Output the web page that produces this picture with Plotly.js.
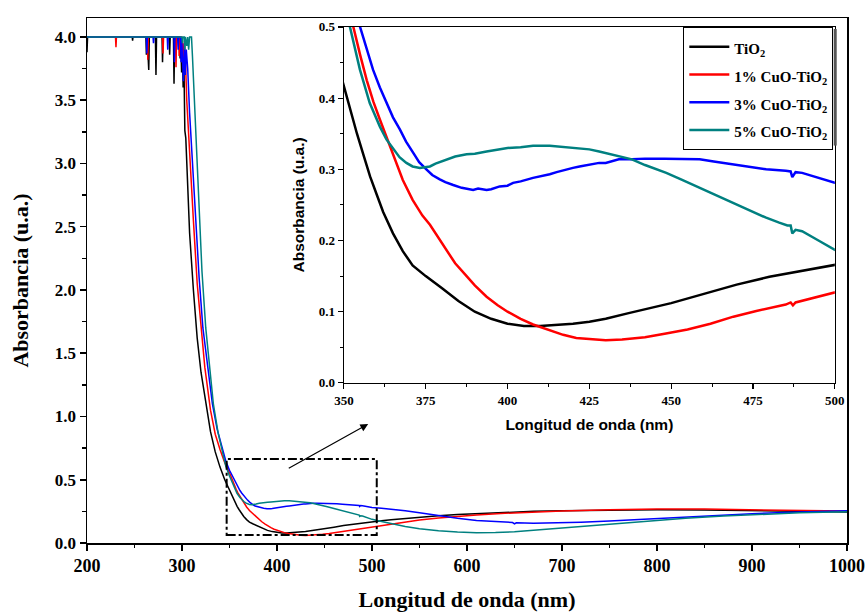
<!DOCTYPE html>
<html>
<head>
<meta charset="utf-8">
<script src="https://cdn.plot.ly/plotly-3.0.1.min.js"></script>
<style>html,body{margin:0;padding:0;background:#fff;}#chart{width:867px;height:616px;}</style>
</head>
<body>
<div id="chart"></div>
<script>
// ---------- data ----------
const seriesNames = ["TiO<sub>2</sub>", "1% CuO-TiO<sub>2</sub>", "3% CuO-TiO<sub>2</sub>", "5% CuO-TiO<sub>2</sub>"];
const seriesColors = ["#000000", "#ff0000", "#0000ff", "#008080"];

const tio2X = [200,200.6,247.6,248,248.4,262,262.5,263.5,265,265.6,272,272.6,273.2,279,279.5,280.1,286.5,287,287.6,291,291.6,292.3,294,295,297.4,298,298.6,299.6,300.4,301.2,302,303,304,305,306.5,308,312,316,320,325,330,335,340,345,
  350,352,354,356,358,360,362,365,368,371,375,380,385,390,395,400,405,410,415,420,425,430,437,445,450,460,470,480,490,500,
  510,520,535,550,570,590,610,640,670,700,750,800,850,900,950,1000];
const tio2Y = [3.88,4.0,4.0,3.97,4.0,4.0,3.86,3.98,3.74,4.0,4.0,3.70,4.0,4.0,3.80,4.0,4.0,3.86,4.0,4.0,3.63,4.0,3.92,4.0,4.0,3.83,4.0,3.72,3.95,3.6,3.8,3.26,3.2,3.0,2.75,2.45,2.0,1.62,1.35,1.1,0.88,0.72,0.6,0.5,
  0.415,0.38,0.35,0.32,0.29,0.265,0.24,0.21,0.185,0.165,0.15,0.133,0.115,0.1,0.09,0.083,0.08,0.08,0.081,0.083,0.086,0.09,0.098,0.106,0.112,0.125,0.138,0.149,0.158,0.167,
  0.176,0.184,0.195,0.205,0.216,0.226,0.233,0.242,0.25,0.255,0.261,0.263,0.261,0.256,0.251,0.246];

const cu1X = [200,230,230.5,231,263.5,264,264.6,279.5,280,280.6,293.2,293.7,294.3,296.5,297,297.6,299.5,300,300.6,301.5,302.5,303.5,305,308,312,316,320,324,330,335,340,345,
  350,352.8,355,357,359,361,363,365.6,368,371,374,376.3,378,381.3,384,387.5,390,393.6,397,400,404,407.8,412,417,421,425,430,435,442,448,455,462,469,476,485,486.5,487.2,488,493,500,
  510,520,535,550,570,590,610,640,670,700,750,800,850,900,950,1000];
const cu1Y = [4.0,4.0,3.92,4.0,4.0,3.82,4.0,4.0,3.87,4.0,4.0,3.76,4.0,4.0,3.85,4.0,4.0,3.8,3.97,3.75,3.95,3.85,3.5,3.05,2.55,2.05,1.7,1.39,1.05,0.86,0.74,0.635,
  0.555,0.50,0.46,0.425,0.395,0.37,0.345,0.314,0.285,0.257,0.235,0.222,0.21,0.187,0.168,0.15,0.137,0.121,0.109,0.1,0.09,0.082,0.075,0.0675,0.063,0.0614,0.06,0.061,0.064,0.069,0.075,0.083,0.093,0.101,0.110,0.113,0.109,0.113,0.119,0.128,
  0.14,0.152,0.168,0.182,0.198,0.212,0.222,0.235,0.245,0.253,0.262,0.268,0.268,0.263,0.257,0.252];

const cu3X = [200,262.5,263,263.6,269.5,270,270.5,284.5,285,285.5,291.5,292,292.6,295.5,296,296.5,298.5,299,299.6,301.5,302.5,303.5,304.5,306,308,311,314,318,322,327,332,337,342,346,
  350,354.9,357,358.9,361,363,365,367.1,369,371.2,373,375.2,377,379.3,381,383.4,386,389.5,391,393.6,395,397.6,400,401.7,404,407.8,410,412.9,415,418,420,422,425,428,430,434,438,442,448,453,458.7,463,468.8,474,479,485,486.5,487,488,490,495,500,
  510,520,535,550,570,590,610,630,648,650,652,670,690,720,750,780,810,850,900,950,1000];
const cu3Y = [4.0,4.0,3.87,4.0,4.0,3.95,4.0,4.0,3.9,4.0,4.0,3.8,4.0,4.0,3.9,4.0,4.0,3.8,4.0,3.65,3.95,3.7,3.9,3.75,3.4,3.0,2.6,2.1,1.7,1.38,1.1,0.9,0.76,0.65,
  0.575,0.501,0.47,0.44,0.415,0.393,0.373,0.356,0.339,0.323,0.31,0.30,0.292,0.286,0.282,0.278,0.274,0.271,0.273,0.271,0.272,0.276,0.277,0.281,0.283,0.288,0.29,0.293,0.296,0.300,0.302,0.304,0.306,0.309,0.309,0.314,0.314,0.315,0.315,0.315,0.314,0.311,0.307,0.304,0.300,0.298,0.297,0.289,0.296,0.295,0.288,0.281,
  0.275,0.268,0.255,0.24,0.215,0.195,0.178,0.168,0.162,0.152,0.16,0.157,0.158,0.165,0.174,0.186,0.198,0.213,0.232,0.245,0.255];

const cu5X = [200,300,300.5,301,302.5,303,303.6,305,306,307,308,310,311,313,315,318,321,325,329,333,338,342,346,
  350,351.8,354.9,357.9,361,363,365.1,367,369.1,371,373.2,375,376.3,378,381.3,384,387.5,390,393.6,397,400,404,407.8,412.9,418,421,425,428,432,435,438,442,448.5,453,458.7,463,468.8,474,479,483,485.5,486.5,487,488,490,495,500,
  510,520,535,550,570,590,610,630,650,680,710,750,790,830,870,910,950,1000];
const cu5Y = [4.0,4.0,3.95,4.0,4.0,3.9,4.0,3.93,4.0,3.9,4.0,4.0,3.85,3.5,3.1,2.6,2.15,1.7,1.4,1.1,0.87,0.73,0.61,
  0.53,0.501,0.44,0.393,0.360,0.342,0.328,0.317,0.309,0.304,0.302,0.303,0.304,0.308,0.314,0.318,0.321,0.322,0.325,0.328,0.330,0.331,0.333,0.333,0.331,0.33,0.328,0.325,0.321,0.318,0.314,0.306,0.295,0.286,0.274,0.265,0.253,0.242,0.232,0.225,0.221,0.221,0.21,0.215,0.213,0.2,0.187,
  0.17,0.152,0.13,0.113,0.097,0.087,0.082,0.083,0.089,0.106,0.124,0.15,0.175,0.195,0.213,0.228,0.239,0.248];

const mainXTicks = [200,300,400,500,600,700,800,900,1000];
const insetXTicks = [350,375,400,425,450,475,500];
const zoomBox = {x: [347, 505], y: [0.063, 0.664]};
const arrowPts = {x: [410.8, 496], y: [0.585, 0.94]};

// ---------- traces ----------
const xs = [tio2X, cu1X, cu3X, cu5X];
const ys = [tio2Y, cu1Y, cu3Y, cu5Y];
const traces = [];
for (let i = 0; i < 4; i++) {
  traces.push({x: xs[i], y: ys[i], type: 'scatter', mode: 'lines', xaxis: 'x', yaxis: 'y',
    line: {color: seriesColors[i], width: 1.5}, showlegend: false, hoverinfo: 'skip'});
}
for (let i = 0; i < 4; i++) {
  traces.push({x: xs[i], y: ys[i], type: 'scatter', mode: 'lines', xaxis: 'x2', yaxis: 'y2',
    name: '<span style="font-size:15px">' + seriesNames[i] + '</span>',
    line: {color: seriesColors[i], width: 2.5}, showlegend: true});
}

const serifBold = {family: 'Liberation Serif, Times New Roman, serif', weight: 'bold', color: '#000'};
const sansBold = {family: 'Liberation Sans, Arial, sans-serif', weight: 'bold', color: '#000'};

const layout = {
  width: 867, height: 616,
  margin: {l: 87, r: 20, t: 18, b: 73},
  paper_bgcolor: '#fff', plot_bgcolor: '#fff',
  showlegend: true,
  xaxis: {
    domain: [0, 1], anchor: 'y', range: [200, 1000], tickvals: mainXTicks,
    showline: true, linecolor: '#000', linewidth: 1.5, mirror: true,
    ticks: 'outside', ticklen: 6, tickwidth: 1.5, tickcolor: '#000',
    minor: {ticks: 'outside', ticklen: 3.5, tickwidth: 1.5, dtick: 50, tick0: 200, tickcolor: '#000'},
    showgrid: false, zeroline: false,
    tickfont: Object.assign({size: 18}, serifBold),
    title: {text: 'Longitud de onda (nm)', font: Object.assign({size: 22}, serifBold), standoff: 16}
  },
  yaxis: {
    domain: [0, 1], anchor: 'x', range: [0, 4.15], dtick: 0.5, tick0: 0, tickformat: '.1f',
    showline: true, linecolor: '#000', linewidth: 1.5, mirror: true,
    ticks: 'outside', ticklen: 6, tickwidth: 1.5, tickcolor: '#000',
    minor: {ticks: 'outside', ticklen: 3.5, tickwidth: 1.5, dtick: 0.25, tick0: 0, tickcolor: '#000'},
    showgrid: false, zeroline: false,
    tickfont: Object.assign({size: 17}, serifBold),
    title: {text: 'Absorbancia (u.a.)', font: Object.assign({size: 22}, serifBold), standoff: 20}
  },
  xaxis2: {
    domain: [0.338, 0.984], anchor: 'y2', range: [350, 500], tickvals: insetXTicks,
    showline: true, linecolor: '#000', linewidth: 1.2, mirror: true,
    ticks: 'outside', ticklen: 5, tickwidth: 1.2, tickcolor: '#000',
    minor: {ticks: 'outside', ticklen: 3, tickwidth: 1, dtick: 12.5, tick0: 350, tickcolor: '#000'},
    showgrid: false, zeroline: false,
    tickfont: Object.assign({size: 13}, serifBold),
    title: {text: 'Longitud de onda (nm)', font: Object.assign({size: 15.5}, sansBold), standoff: 12}
  },
  yaxis2: {
    domain: [0.305, 0.983], anchor: 'x2', range: [0, 0.5], dtick: 0.1, tick0: 0, tickformat: '.1f',
    showline: true, linecolor: '#000', linewidth: 1.2, mirror: true,
    ticks: 'outside', ticklen: 5, tickwidth: 1.2, tickcolor: '#000',
    minor: {ticks: 'outside', ticklen: 3, tickwidth: 1, dtick: 0.05, tick0: 0, tickcolor: '#000'},
    showgrid: false, zeroline: false,
    tickfont: Object.assign({size: 13}, serifBold),
    title: {text: 'Absorbancia (u.a.)', font: Object.assign({size: 15.5}, sansBold), standoff: 10}
  },
  legend: {
    x: 0.982, y: 0.983, xanchor: 'right', yanchor: 'top',
    bgcolor: '#fff', bordercolor: '#000', borderwidth: 1,
    font: Object.assign({size: 19}, serifBold),
    itemwidth: 40, tracegroupgap: 0
  },
  shapes: [{
    type: 'rect', xref: 'x', yref: 'y',
    x0: zoomBox.x[0], x1: zoomBox.x[1], y0: zoomBox.y[0], y1: zoomBox.y[1],
    line: {color: '#000', width: 2, dash: 'dashdot'}, fillcolor: 'rgba(0,0,0,0)'
  }, {
    type: 'line', xref: 'paper', yref: 'paper',
    x0: 0.9845, x1: 0.9845, y0: 0.757, y1: 0.979,
    line: {color: '#555', width: 3}
  }],
  annotations: [{
    xref: 'x', yref: 'y', axref: 'x', ayref: 'y',
    x: arrowPts.x[1], y: arrowPts.y[1], ax: arrowPts.x[0], ay: arrowPts.y[0],
    text: '', showarrow: true, arrowhead: 2, arrowsize: 1.3, arrowwidth: 1.2, arrowcolor: '#000'
  }]
};

Plotly.newPlot('chart', traces, layout, {displayModeBar: false, staticPlot: true});
</script>
</body>
</html>
